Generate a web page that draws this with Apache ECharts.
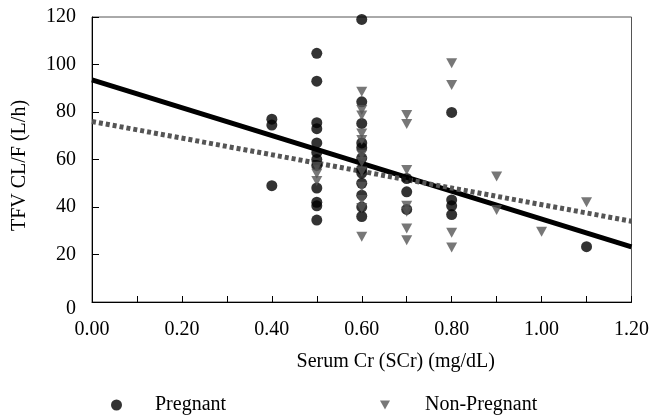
<!DOCTYPE html>
<html>
<head>
<meta charset="utf-8">
<script src="https://cdn.jsdelivr.net/npm/echarts@6/dist/echarts.min.js"></script>
<style>
html,body{margin:0;padding:0;background:#fff;}
#chart{width:652px;height:417px;}
</style>
</head>
<body>
<div id="chart"></div>
<script>
// Pregnant (circles)
const pregnantX = [0.4,0.4,0.4,
  0.5,0.5,0.5,0.5,0.5,0.5,0.5,0.5,0.5,0.5,0.5,0.5,
  0.6,0.6,0.6,0.6,0.6,0.6,0.6,0.6,0.6,0.6,0.6,0.6,
  0.7,0.7,0.7,
  0.8,0.8,0.8,0.8,
  1.1];
const pregnantY = [77,74.5,49,
  104.7,93,75.5,73,67,63,60,57.5,48,42,40.5,34.5,
  119,84.3,75.2,67,65,60.6,56,54.3,50,45,40,36,
  52,46.4,39,
  79.8,43,40.5,36.8,
  23.3];
// Non-Pregnant (triangles)
const nonPregX = [0.5,0.5,0.5,
  0.6,0.6,0.6,0.6,0.6,0.6,0.6,0.6,0.6,0.6,0.6,0.6,
  0.7,0.7,0.7,0.7,0.7,0.7,0.7,
  0.8,0.8,0.8,0.8,
  0.9,0.9,
  1.0,
  1.1];
const nonPregY = [57,54,51,
  88.5,80.8,78.5,71,68.2,62,59,55,48.5,43,39.6,27.5,
  78.7,75,55.6,40.5,38,31,26,
  100.5,91.4,29.2,23,
  52.8,38.7,
  29.6,
  42];
// Regression lines
const lineX = [0, 1.2];
const pregLineY = [93.5, 23.2];
const nonPregLineY = [76, 34];

const xTickLabels = ['0.00','0.20','0.40','0.60','0.80','1.00','1.20'];
const seriesNames = ['Pregnant', 'Non-Pregnant'];

const zip = (xs, ys) => xs.map((x, i) => [x, ys[i]]);
const FONT = 'Liberation Serif';
const TRI = 'path://M0,0 L10,0 L5,9 Z';

const chart = echarts.init(document.getElementById('chart'), null, {renderer: 'canvas'});
chart.setOption({
  animation: false,
  backgroundColor: '#fff',
  grid: {left: 92, right: 20, top: 17, bottom: 115, show: true, borderColor: '#555', borderWidth: 1, backgroundColor: 'transparent'},
  xAxis: {
    type: 'value', min: 0, max: 1.2, interval: 0.1,
    name: 'Serum Cr (SCr) (mg/dL)', nameLocation: 'middle', nameGap: 50,
    nameTextStyle: {fontFamily: FONT, fontSize: 20, color: '#000', padding: [0, 0, 0, 68]},
    axisLine: {show: true, lineStyle: {color: '#000', width: 1}},
    axisTick: {show: true, inside: true, length: 6, lineStyle: {color: '#000'}},
    axisLabel: {
      fontFamily: FONT, fontSize: 20, color: '#000', margin: 18,
      formatter: v => {
        const k = Math.round(v * 10);
        return k % 2 === 0 ? xTickLabels[k / 2] : '';
      }
    },
    splitLine: {show: false}
  },
  yAxis: {
    type: 'value', min: 0, max: 120, interval: 20,
    name: 'TFV CL/F (L/h)', nameLocation: 'middle', nameGap: 62,
    nameTextStyle: {fontFamily: FONT, fontSize: 20, color: '#000', padding: [0, 12, 0, 0]},
    axisLine: {show: true, lineStyle: {color: '#000', width: 1}},
    axisTick: {show: true, inside: true, length: 7, lineStyle: {color: '#000'}},
    axisLabel: {
      fontFamily: FONT, fontSize: 20, color: '#000', margin: 16,
      formatter: v => v === 0 ? '{z|0}' : String(v),
      rich: {z: {fontFamily: FONT, fontSize: 20, color: '#000', padding: [14, 0, 0, 0]}}
    },
    splitLine: {show: false}
  },
  legend: [
    {
      data: [{name: seriesNames[0], icon: 'circle'}],
      left: 111, top: 395, padding: 0, itemWidth: 11, itemHeight: 11,
      textStyle: {fontFamily: FONT, fontSize: 20, color: '#000', padding: [0, 0, 0, 28]}
    },
    {
      data: [{name: seriesNames[1], icon: TRI}],
      left: 380, top: 395, padding: 0, itemWidth: 10, itemHeight: 10,
      textStyle: {fontFamily: FONT, fontSize: 20, color: '#000', padding: [0, 0, 0, 30]}
    }
  ],
  series: [
    {
      name: 'pregLine', type: 'line', data: zip(lineX, pregLineY),
      symbol: 'none', lineStyle: {color: '#000', width: 5}, z: 3
    },
    {
      name: 'nonPregLine', type: 'line', data: zip(lineX, nonPregLineY),
      symbol: 'none', lineStyle: {color: '#555', width: 5, type: [4, 3]}, z: 3
    },
    {
      name: seriesNames[0], type: 'scatter', data: zip(pregnantX, pregnantY),
      symbol: 'circle', symbolSize: 11, itemStyle: {color: '#000'}, z: 4
    },
    {
      name: seriesNames[1], type: 'scatter', data: zip(nonPregX, nonPregY),
      symbol: TRI, symbolSize: [11, 10], itemStyle: {color: '#555'}, z: 5
    }
  ]
});
</script>
</body>
</html>
